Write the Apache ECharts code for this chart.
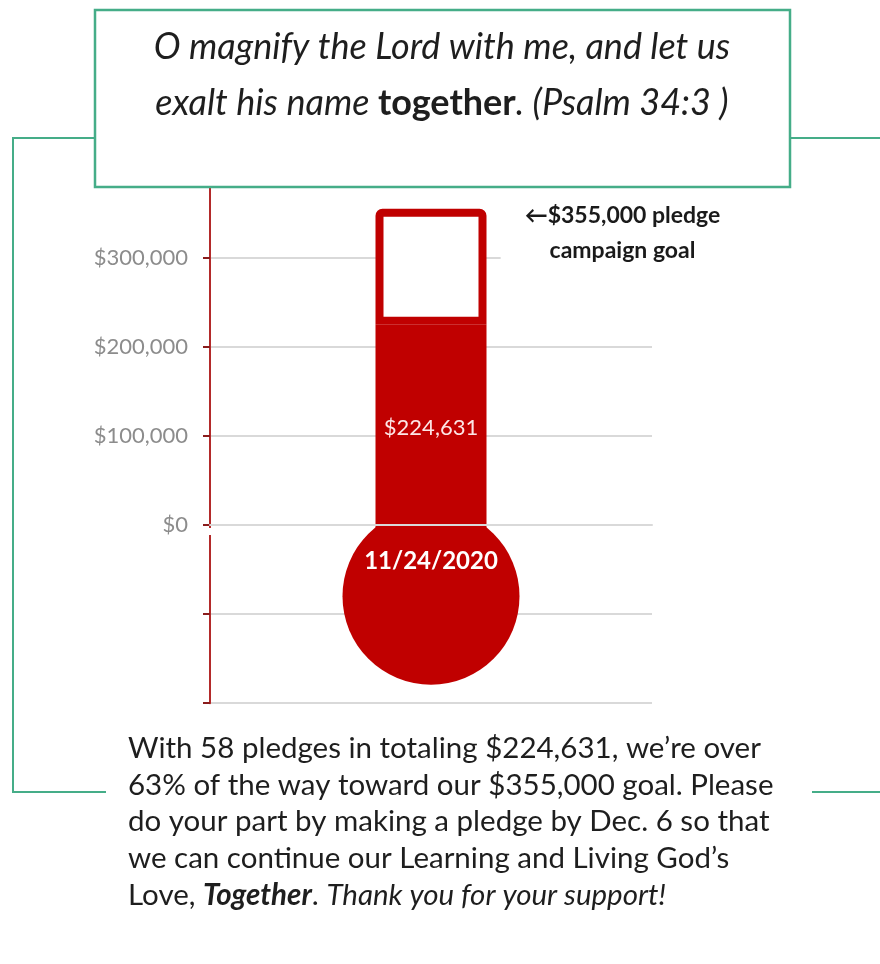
<!DOCTYPE html>
<html>
<head>
<meta charset="utf-8">
<script src="https://cdn.jsdelivr.net/npm/echarts@6/dist/echarts.min.js"></script>
<style>
  html, body { margin: 0; padding: 0; background: #fff; }
  #chart { width: 880px; height: 964px; }
</style>
</head>
<body>
<div id="chart"></div>
<script>
// chart data
const categories = ['11/24/2020'];
const pledged = [224631];
const goal = [355000];
const bulbCenter = [-80000];
const pledgeCount = 58;
const pledgeDeadline = 'Dec. 6';
const yLabelMax = 300000; // highest labelled tick

const RED = '#c00000';
const GREEN = '#45ad88';
const FONT = 'Lato';

const money = v => '$' + v.toLocaleString('en-US');
const remaining = goal.map((g, i) => g - pledged[i]);
const percent = Math.floor(pledged[0] / goal[0] * 100);

const chart = echarts.init(document.getElementById('chart'));

const option = {
  backgroundColor: '#fff',
  animation: false,
  grid: {
    left: 210,
    right: 228,
    top: 168.6,
    bottom: 260.8,
    outerBoundsMode: 'none'
  },
  xAxis: {
    type: 'category',
    data: categories,
    z: 10,
    axisLine: { show: true, onZero: true, lineStyle: { color: '#d9d9d9', width: 2 } },
    axisTick: { show: false },
    axisLabel: { show: false }
  },
  yAxis: {
    type: 'value',
    min: -200000,
    max: 400000,
    interval: 100000,
    axisLine: { show: true, lineStyle: { color: '#b32a2a', width: 2 } },
    axisTick: { show: true, length: 7, lineStyle: { color: '#8a1c1c', width: 2 } },
    axisLabel: {
      color: '#8c8c8c',
      fontFamily: FONT,
      fontSize: 22,
      margin: 22,
      formatter: v => (v >= 0 && v <= yLabelMax ? money(v) : '')
    },
    splitLine: { show: true, lineStyle: { color: '#d9d9d9', width: 2 } }
  },
  series: [
    {
      // stem going down into the bulb, carries the date
      type: 'bar',
      stack: 'thermo',
      data: bulbCenter,
      barWidth: 111,
      itemStyle: { color: RED, borderColor: RED, borderWidth: 8 },
      label: {
        show: true,
        position: 'inside',
        offset: [0, 1],
        color: '#fff',
        fontFamily: FONT,
        fontWeight: 'bold',
        fontSize: 24,
        formatter: p => p.name
      }
    },
    {
      type: 'bar',
      stack: 'thermo',
      data: pledged,
      barWidth: 111,
      itemStyle: { color: RED, borderColor: RED, borderWidth: 8 },
      label: {
        show: true,
        position: 'inside',
        offset: [0, 3],
        color: '#fde6e6',
        fontFamily: FONT,
        fontSize: 22,
        formatter: p => money(p.value)
      }
    },
    {
      type: 'bar',
      stack: 'thermo',
      data: remaining,
      barWidth: 111,
      itemStyle: { color: '#fff', borderColor: RED, borderWidth: 8, borderRadius: [3, 3, 0, 0] },
      label: {
        show: true,
        position: ['100%', 0],
        offset: [136, -13],
        align: 'center',
        verticalAlign: 'top',
        color: '#1a1a1a',
        fontFamily: FONT,
        fontWeight: 'bold',
        fontSize: 23,
        lineHeight: 35,
        backgroundColor: '#fff',
        padding: [2, 24],
        formatter: () => '←' + money(goal[0]) + ' pledge\ncampaign goal'
      }
    },
    {
      // bulb
      type: 'scatter',
      data: [[0, bulbCenter[0]]],
      symbol: 'circle',
      symbolSize: 177,
      itemStyle: { color: RED, opacity: 1 },
      z: 1
    }
  ],
  graphic: [
    {
      type: 'polyline',
      z: 100,
      shape: { points: [[95, 138], [13, 138], [13, 792], [106, 792]] },
      style: { stroke: GREEN, lineWidth: 2, fill: null }
    },
    {
      type: 'line',
      z: 100,
      shape: { x1: 790, y1: 138, x2: 880, y2: 138 },
      style: { stroke: GREEN, lineWidth: 2 }
    },
    {
      type: 'line',
      z: 100,
      shape: { x1: 812, y1: 792, x2: 880, y2: 792 },
      style: { stroke: GREEN, lineWidth: 2 }
    },
    {
      type: 'rect',
      z: 100,
      shape: { x: 95, y: 10, width: 695, height: 177 },
      style: { fill: '#fff', stroke: GREEN, lineWidth: 2.5 }
    },
    {
      type: 'text',
      z: 101,
      x: 442,
      y: 19,
      style: {
        text: '{i|O magnify the Lord with me, and let us}\n{i|exalt his name }{b|together}{i|. (Psalm 34:3 )}',
        align: 'center',
        verticalAlign: 'top',
        rich: {
          i: { fontFamily: FONT, fontStyle: 'italic', fontSize: 36, lineHeight: 56, fill: '#1e1e1e' },
          b: { fontFamily: FONT, fontWeight: 'bold', fontSize: 36, lineHeight: 56, fill: '#1e1e1e' }
        }
      }
    },
    {
      type: 'text',
      z: 101,
      x: 128,
      y: 730,
      style: {
        text: [
          `With ${pledgeCount} pledges in totaling ${money(pledged[0])}, we’re over`,
          `${percent}% of the way toward our ${money(goal[0])} goal. Please`,
          `do your part by making a pledge by ${pledgeDeadline} so that`,
          'we can continue our Learning and Living God’s',
          'Love, {bi|Together}. {i|Thank you for your support!}'
        ].join('\n'),
        align: 'left',
        verticalAlign: 'top',
        fontFamily: FONT,
        fontSize: 29.5,
        lineHeight: 36.7,
        fill: '#1e1e1e',
        rich: {
          bi: { fontFamily: FONT, fontStyle: 'italic', fontWeight: 'bold', fontSize: 29.5, lineHeight: 36.7, fill: '#1e1e1e' },
          i: { fontFamily: FONT, fontStyle: 'italic', fontSize: 29.5, lineHeight: 36.7, fill: '#1e1e1e' }
        }
      }
    }
  ]
};

chart.setOption(option);

// small break in the value axis just under $0, as in the original
const y0 = chart.convertToPixel({ yAxisIndex: 0 }, 0);
chart.setOption({
  graphic: option.graphic.concat([{
    type: 'rect',
    z: 99,
    shape: { x: 204, y: y0 + 3, width: 12, height: 7 },
    style: { fill: '#fff' }
  }])
});
</script>
</body>
</html>
